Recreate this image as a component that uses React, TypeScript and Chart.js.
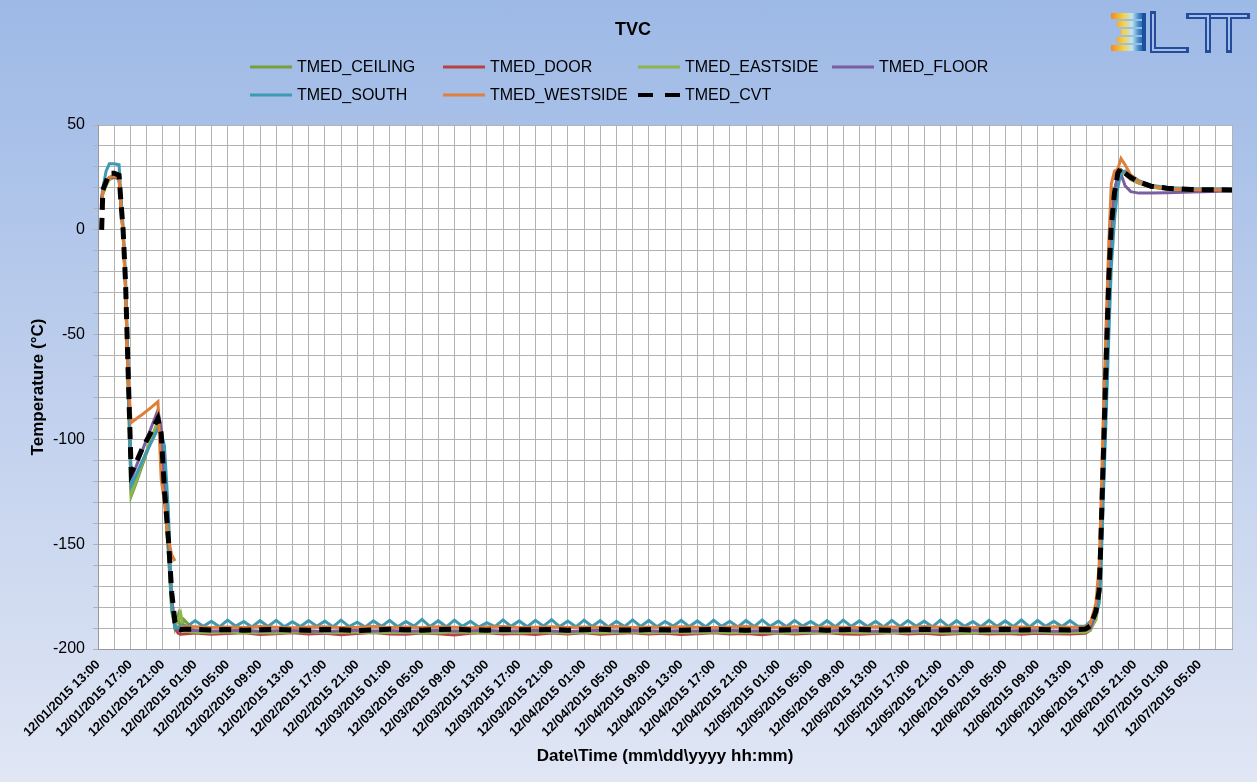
import React, { useEffect, useRef } from 'react';
import { Chart, registerables } from 'chart.js';

Chart.register(...registerables);

const FONT = "'Liberation Sans', Arial, sans-serif";

// ---- tick labels (every 4 hours, starting 12/01/2015 13:00) ----
const tickLabels = [
  '12/01/2015 13:00', '12/01/2015 17:00', '12/01/2015 21:00',
  '12/02/2015 01:00', '12/02/2015 05:00', '12/02/2015 09:00', '12/02/2015 13:00', '12/02/2015 17:00', '12/02/2015 21:00',
  '12/03/2015 01:00', '12/03/2015 05:00', '12/03/2015 09:00', '12/03/2015 13:00', '12/03/2015 17:00', '12/03/2015 21:00',
  '12/04/2015 01:00', '12/04/2015 05:00', '12/04/2015 09:00', '12/04/2015 13:00', '12/04/2015 17:00', '12/04/2015 21:00',
  '12/05/2015 01:00', '12/05/2015 05:00', '12/05/2015 09:00', '12/05/2015 13:00', '12/05/2015 17:00', '12/05/2015 21:00',
  '12/06/2015 01:00', '12/06/2015 05:00', '12/06/2015 09:00', '12/06/2015 13:00', '12/06/2015 17:00', '12/06/2015 21:00',
  '12/07/2015 01:00', '12/07/2015 05:00',
];

// ---- time (hours since 12/01/2015 13:00) ----
const coolHours = [0.45, 0.6, 1.0, 1.4, 2.0, 2.6, 2.8, 3.1, 3.4, 3.7, 4.1, 4.6, 5.5, 6.5, 7.4, 7.8, 8.2, 8.7, 9.1, 9.5, 9.9, 10.2, 10.6];
const flatHours = [
  12, 14, 16, 18, 20, 22, 24, 26, 28, 30,
  32, 34, 36, 38, 40, 42, 44, 46, 48, 50,
  52, 54, 56, 58, 60, 62, 64, 66, 68, 70,
  72, 74, 76, 78, 80, 82, 84, 86, 88, 90,
  92, 94, 96, 98, 100, 102, 104, 106, 108, 110,
  112, 114, 116, 118, 120,
];
const southFlatHours = [
  11, 12, 13, 14, 15, 16, 17, 18, 19, 20,
  21, 22, 23, 24, 25, 26, 27, 28, 29, 30,
  31, 32, 33, 34, 35, 36, 37, 38, 39, 40,
  41, 42, 43, 44, 45, 46, 47, 48, 49, 50,
  51, 52, 53, 54, 55, 56, 57, 58, 59, 60,
  61, 62, 63, 64, 65, 66, 67, 68, 69, 70,
  71, 72, 73, 74, 75, 76, 77, 78, 79, 80,
  81, 82, 83, 84, 85, 86, 87, 88, 89, 90,
  91, 92, 93, 94, 95, 96, 97, 98, 99, 100,
  101, 102, 103, 104, 105, 106, 107, 108, 109, 110,
  111, 112, 113, 114, 115, 116, 117, 118, 119, 120,
  121,
];
const warmHours = [121.9, 122.5, 123.2, 123.6, 123.8, 124.1, 124.5, 124.8, 125.1, 125.5, 125.9, 126.3, 126.8, 127.5, 128.5, 130, 132, 135, 140];

// ---- TMED_CEILING ----
const ceilingCool = [13, 18, 22, 24, 25, 24.5, 13, -2, -28, -70, -127, -122, -112, -101, -92, -98, -126, -155, -182, -190, -184, -191, -186];
const ceilingFlat = [
  -191.6, -191.9, -191.5, -191.8, -191.7, -192.0, -191.6, -191.4, -191.8, -191.7,
  -191.5, -191.9, -191.7, -191.6, -192.0, -191.8, -191.5, -191.7, -191.9, -191.6,
  -191.8, -191.5, -191.7, -192.0, -191.6, -191.8, -191.7, -191.5, -191.9, -191.6,
  -191.7, -191.8, -191.5, -191.9, -191.7, -191.6, -192.0, -191.8, -191.6, -191.7,
  -191.5, -191.8, -191.9, -191.6, -191.7, -191.5, -191.8, -192.0, -191.7, -191.6,
  -191.8, -191.7, -191.5, -191.9, -191.7,
];
const ceilingWarm = [-191.5, -190, -185, -176, -155, -115, -62, -26, -2, 16, 26, 28.5, 27, 24.5, 22.5, 20.5, 19.5, 19, 18.8];

// ---- TMED_DOOR ----
const doorCool = [14, 18, 22, 25, 25.5, 25, 14, -1, -27, -68, -124, -120, -111, -101, -93, -98, -125, -150, -176, -190, -192.5, -193, -192.8];
const doorFlat = [
  -192.4, -193.0, -192.6, -192.2, -193.1, -192.7, -192.3, -192.9, -192.5, -193.2,
  -192.6, -192.1, -192.8, -193.0, -192.4, -192.7, -193.3, -192.5, -192.2, -192.9,
  -192.6, -193.1, -192.4, -192.8, -192.3, -193.0, -192.6, -192.2, -192.9, -192.5,
  -193.1, -192.7, -192.3, -192.8, -192.6, -193.2, -192.4, -192.9, -192.5, -192.2,
  -192.8, -193.0, -192.6, -192.3, -192.9, -192.5, -193.1, -192.7, -192.4, -192.8,
  -192.6, -193.0, -192.5, -192.7, -192.9,
];
const doorWarm = [-192.5, -191, -184, -174, -152, -112, -60, -24, 0, 17, 26, 28.5, 26.5, 24, 22.3, 20.5, 19.5, 19, 18.9];

// ---- TMED_EASTSIDE ----
const eastCool = [12, 17, 21, 24, 25, 24.5, 13, -2, -28, -71, -126, -121, -111, -100, -91, -97, -125, -153, -180, -189, -186, -183, -191.5];
const eastFlat = [
  -192.0, -192.3, -191.9, -192.2, -192.1, -192.4, -192.0, -191.8, -192.2, -192.1,
  -191.9, -192.3, -192.1, -192.0, -192.4, -192.2, -191.9, -192.1, -192.3, -192.0,
  -192.2, -191.9, -192.1, -192.4, -192.0, -192.2, -192.1, -191.9, -192.3, -192.0,
  -192.1, -192.2, -191.9, -192.3, -192.1, -192.0, -192.4, -192.2, -192.0, -192.1,
  -191.9, -192.2, -192.3, -192.0, -192.1, -191.9, -192.2, -192.4, -192.1, -192.0,
  -192.2, -192.1, -191.9, -192.3, -192.1,
];
const eastWarm = [-192, -191, -186, -177, -157, -118, -65, -28, -4, 15, 25.5, 28, 26.5, 24.3, 22.4, 20.4, 19.4, 18.9, 18.8];

// ---- TMED_FLOOR ----
const floorCool = [15, 19, 23, 25, 25, 24.5, 14, -1, -26, -67, -119, -114, -105, -95, -86, -95, -122, -150, -176, -189, -191, -191.2, -191];
const floorFlat = [
  -191.2, -191.4, -191.3, -191.1, -191.5, -191.3, -191.2, -191.4, -191.6, -191.3,
  -191.1, -191.4, -191.2, -191.5, -191.3, -191.2, -191.4, -191.3, -191.1, -191.5,
  -191.3, -191.2, -191.4, -191.6, -191.3, -191.1, -191.4, -191.2, -191.3, -191.5,
  -191.2, -191.4, -191.3, -191.1, -191.4, -191.3, -191.5, -191.2, -191.3, -191.4,
  -191.1, -191.3, -191.5, -191.2, -191.4, -191.3, -191.2, -191.4, -191.1, -191.3,
  -191.4, -191.2, -191.3, -191.5, -191.3,
];
const floorWarm = [-191, -190, -183, -172, -150, -108, -55, -20, 4, 19, 26, 26.5, 21, 18.2, 17.5, 17.5, 17.7, 18, 18.5];

// ---- TMED_SOUTH ----
const southCool = [15, 20, 28, 31.5, 31.5, 31, 18, 2, -22, -62, -122, -118, -110, -102, -95, -97, -103, -135, -180, -190, -189.5, -189.3, -188.5];
const southFlat = [
  -189.3, -186.4, -189.2, -186.8, -189.4, -186.2, -189.1, -186.9, -189.5, -186.5,
  -189.2, -186.3, -189.4, -187.0, -189.3, -186.4, -189.1, -186.7, -189.4, -186.2,
  -189.3, -187.2, -189.5, -186.6, -189.2, -186.3, -189.4, -186.9, -189.1, -185.9,
  -189.3, -186.5, -189.4, -186.2, -189.2, -186.8, -189.5, -187.4, -189.3, -186.1,
  -189.2, -186.6, -189.4, -186.3, -189.1, -186.0, -189.3, -186.7, -189.4, -186.2,
  -189.2, -186.5, -189.5, -186.8, -189.3, -186.1, -189.2, -186.4, -189.4, -186.9,
  -189.1, -186.3, -189.3, -186.6, -189.4, -186.2, -189.2, -186.8, -189.5, -186.4,
  -189.3, -186.1, -189.2, -186.7, -189.4, -186.3, -189.1, -186.9, -189.3, -186.5,
  -189.4, -186.2, -189.2, -186.6, -189.3, -186.8, -189.5, -186.3, -189.2, -186.4,
  -189.1, -186.7, -189.4, -186.2, -189.3, -186.5, -189.2, -186.9, -189.4, -186.3,
  -189.2, -186.6, -189.3, -186.1, -189.5, -186.4, -189.2, -186.8, -189.3, -186.5,
  -189.2,
];
const southWarm = [-189, -187, -184, -178, -165, -130, -85, -50, -18, 5, 20, 27.5, 28, 26, 23.5, 21.3, 20.2, 19.6, 19.4];

// ---- TMED_WESTSIDE ----
const westCool = [14, 18, 22, 25, 25.5, 25, 14, -2, -28, -70, -92, -90.5, -88, -85, -82, -119, -130, -148, -155, -158, null, -189.5, -189.3];
const westFlat = [
  -189.4, -189.7, -189.5, -189.8, -189.3, -189.6, -189.9, -189.5, -189.4, -189.7,
  -189.6, -189.3, -189.8, -189.5, -189.7, -189.4, -189.6, -189.9, -189.5, -189.3,
  -189.7, -189.6, -189.4, -189.8, -189.5, -189.6, -189.3, -189.7, -189.5, -189.8,
  -189.4, -189.6, -189.7, -189.5, -189.3, -189.8, -189.6, -189.4, -189.7, -189.5,
  -189.6, -189.8, -189.4, -189.5, -189.7, -189.3, -189.6, -189.5, -189.8, -189.4,
  -189.6, -189.5, -189.7, -189.4, -189.6,
];
const westWarm = [-189.5, -188, -178, -160, -135, -90, -40, -5, 22, 28, 29, 34, 31, 26, 23, 20.8, 19.7, 19.2, 19];

// ---- TMED_CVT ----
const cvtCool = [0, 19, 23, 27, 27, 26, 15, 0, -25, -65, -116, -112, -104, -97, -90, -97, -124, -148, -173, -187, -190.5, -190.8, -190.6];
const cvtFlat = [
  -190.6, -190.9, -190.7, -191.0, -190.8, -190.6, -190.9, -191.1, -190.7, -190.8,
  -191.2, -190.9, -190.6, -190.8, -191.0, -190.7, -190.5, -190.9, -191.0, -190.6,
  -190.8, -190.9, -190.7, -191.0, -190.8, -190.6, -190.9, -191.0, -190.7, -190.8,
  -191.1, -190.9, -190.6, -190.8, -191.0, -190.7, -190.9, -190.8, -190.6, -191.0,
  -190.8, -190.7, -190.9, -191.1, -190.8, -190.6, -190.9, -190.7, -191.0, -190.8,
  -190.6, -190.9, -190.7, -190.8, -190.9,
];
const cvtWarm = [-190.5, -189, -182, -172, -150, -110, -58, -22, 2, 18, 27, 29.5, 27, 25, 22.8, 20.8, 19.8, 19.2, 19];

function pts(hours: number[], vals: (number | null)[]) {
  return hours.map((h, i) => ({ x: h, y: vals[i] }));
}

const series = [
  { name: 'TMED_CEILING', color: '#77A03C', width: 3, dash: [] as number[], data: [...pts(coolHours, ceilingCool), ...pts(flatHours, ceilingFlat), ...pts(warmHours, ceilingWarm)] },
  { name: 'TMED_DOOR', color: '#B8423F', width: 3, dash: [] as number[], data: [...pts(coolHours, doorCool), ...pts(flatHours, doorFlat), ...pts(warmHours, doorWarm)] },
  { name: 'TMED_EASTSIDE', color: '#8DB44E', width: 3, dash: [] as number[], data: [...pts(coolHours, eastCool), ...pts(flatHours, eastFlat), ...pts(warmHours, eastWarm)] },
  { name: 'TMED_FLOOR', color: '#7B5E9F', width: 3, dash: [] as number[], data: [...pts(coolHours, floorCool), ...pts(flatHours, floorFlat), ...pts(warmHours, floorWarm)] },
  { name: 'TMED_SOUTH', color: '#3E9AB3', width: 3, dash: [] as number[], data: [...pts(coolHours, southCool), ...pts(southFlatHours, southFlat), ...pts(warmHours, southWarm)] },
  { name: 'TMED_WESTSIDE', color: '#E07F3A', width: 3, dash: [] as number[], data: [...pts(coolHours, westCool), ...pts(flatHours, westFlat), ...pts(warmHours, westWarm)] },
  { name: 'TMED_CVT', color: '#000000', width: 5, dash: [12, 8], data: [...pts(coolHours, cvtCool), ...pts(flatHours, cvtFlat), ...pts(warmHours, cvtWarm)] },
];

const decorPlugin = {
  id: 'decor',
  beforeDraw(chart: any) {
    const { ctx, chartArea: a } = chart;
    ctx.save();
    ctx.fillStyle = '#ffffff';
    ctx.fillRect(a.left, a.top, a.right - a.left, a.bottom - a.top);
    ctx.restore();
  },
  afterDraw(chart: any) {
    const { ctx, chartArea: a } = chart;
    ctx.save();
    ctx.fillStyle = '#000';
    ctx.textBaseline = 'middle';

    // title
    ctx.font = `bold 18px ${FONT}`;
    ctx.textAlign = 'center';
    ctx.fillText('TVC', 633, 30);

    // axis titles
    ctx.font = `bold 17px ${FONT}`;
    ctx.fillText('Date\\Time (mm\\dd\\yyyy hh:mm)', (a.left + a.right) / 2, 756);
    ctx.save();
    ctx.translate(38, (a.top + a.bottom) / 2);
    ctx.rotate(-Math.PI / 2);
    ctx.fillText('Temperature (°C)', 0, 0);
    ctx.restore();

    // legend
    const slots = [[250, 67], [443, 67], [638, 67], [832, 67], [250, 95], [443, 95], [638, 95]];
    ctx.font = `16px ${FONT}`;
    ctx.textAlign = 'left';
    series.forEach((s, i) => {
      const [x0, y0] = slots[i];
      ctx.save();
      ctx.strokeStyle = s.color;
      ctx.lineWidth = s.dash.length ? 4 : 3;
      ctx.setLineDash(s.dash.length ? [15, 12] : []);
      ctx.beginPath();
      ctx.moveTo(x0, y0);
      ctx.lineTo(x0 + 42, y0);
      ctx.stroke();
      ctx.restore();
      ctx.fillStyle = '#000';
      ctx.fillText(s.name, x0 + 47, y0 + 1);
    });

    // logo
    const g = ctx.createLinearGradient(1111, 0, 1146, 0);
    g.addColorStop(0, '#ef8a24');
    g.addColorStop(0.35, '#f6d040');
    g.addColorStop(0.6, '#bfe6f0');
    g.addColorStop(0.8, '#3a86c8');
    g.addColorStop(1, '#1d4f9f');
    ctx.fillStyle = g;
    const barLefts = [1111, 1117, 1121, 1117, 1111];
    barLefts.forEach((l, i) => {
      ctx.fillRect(l, 13 + i * 8, 1146 - l, 6);
    });
    ctx.fillStyle = '#1d4f9f';
    ctx.fillRect(1142, 13, 4, 38);

    const letters = [
      [[1153, 14], [1153, 50], [1186, 50]],
      [[1189, 16], [1208, 16], [1208, 50]],
      [[1211, 16], [1247, 16]],
      [[1229, 16], [1229, 50]],
    ];
    const drawPaths = () => {
      letters.forEach((p) => {
        ctx.beginPath();
        ctx.moveTo(p[0][0], p[0][1]);
        for (let k = 1; k < p.length; k++) ctx.lineTo(p[k][0], p[k][1]);
        ctx.stroke();
      });
    };
    ctx.lineJoin = 'miter';
    ctx.lineCap = 'square';
    ctx.strokeStyle = '#234c9a';
    ctx.lineWidth = 6;
    drawPaths();
    ctx.strokeStyle = '#a3bee8';
    ctx.lineWidth = 2;
    ctx.lineCap = 'butt';
    drawPaths();

    ctx.restore();
  },
};

export default function App() {
  const ref = useRef<HTMLCanvasElement | null>(null);

  useEffect(() => {
    if (!ref.current) return;
    Chart.defaults.font.family = FONT;
    const chart = new Chart(ref.current, {
      type: 'line',
      data: {
        datasets: series.map((s, i) => ({
          label: s.name,
          data: s.data as any,
          borderColor: s.color,
          backgroundColor: s.color,
          borderWidth: s.width,
          borderDash: s.dash,
          borderCapStyle: 'butt',
          pointRadius: 0,
          tension: 0,
          fill: false,
          order: series.length - 1 - i,
        })),
      },
      options: {
        animation: false,
        responsive: false,
        devicePixelRatio: 1,
        layout: { padding: { top: 125, right: 25, left: 0, bottom: 0 }, autoPadding: false } as any,
        plugins: {
          legend: { display: false },
          title: { display: false },
          tooltip: { enabled: false },
        },
        scales: {
          x: {
            type: 'linear',
            min: 0,
            max: 140,
            afterFit: (s: any) => { s.height = 133; },
            ticks: {
              stepSize: 2,
              autoSkip: false,
              maxRotation: 45,
              minRotation: 45,
              padding: 8,
              color: '#000',
              font: { family: FONT, size: 13, weight: 'bold' },
              callback: (v: any) => {
                const n = Number(v);
                if (n % 4 !== 0) return '';
                return tickLabels[n / 4] ?? '';
              },
            },
            grid: { color: '#b2b2b2', drawTicks: false },
            border: { color: '#999999' },
          },
          y: {
            min: -200,
            max: 50,
            afterFit: (s: any) => { s.width = 98; },
            ticks: {
              stepSize: 10,
              autoSkip: false,
              padding: 8,
              color: '#000',
              font: { family: FONT, size: 16 },
              callback: (v: any) => (Number(v) % 50 === 0 ? String(v) : ''),
            },
            grid: { color: '#b2b2b2', tickLength: 5 },
            border: { color: '#999999' },
          },
        },
      },
      plugins: [decorPlugin],
    });
    return () => chart.destroy();
  }, []);

  return (
    <div
      style={{
        position: 'fixed',
        left: 0,
        top: 0,
        width: 1257,
        height: 782,
        background: 'linear-gradient(to bottom, #9db9e6 0%, #c3d2ee 55%, #e0e6f4 100%)',
      }}
    >
      <canvas ref={ref} width={1257} height={782} style={{ display: 'block' }} />
    </div>
  );
}
